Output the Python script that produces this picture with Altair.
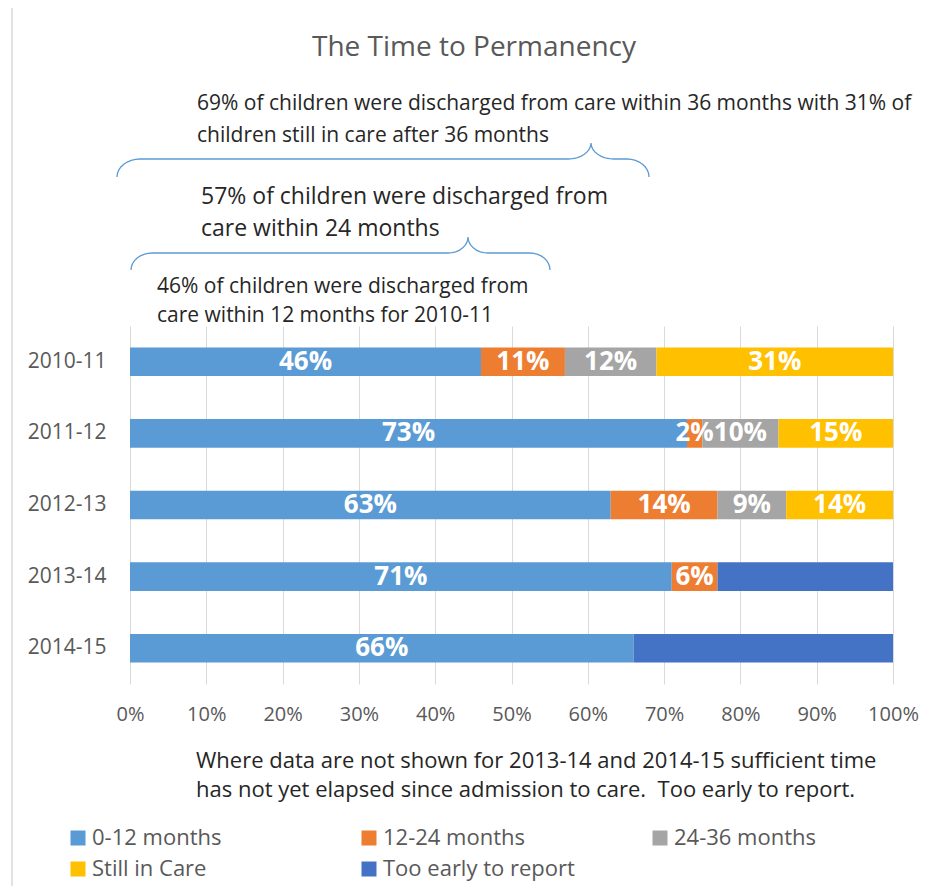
import math
import altair as alt
import pandas as pd

# ---------------- data ----------------
years = ["2010-11", "2011-12", "2012-13", "2013-14", "2014-15"]
series = ["0-12 months", "12-24 months", "24-36 months", "Still in Care", "Too early to report"]
colors = ["#5b9bd5", "#ed7d31", "#a5a5a5", "#ffc000", "#4472c4"]

v_0_12 = [46, 73, 63, 71, 66]
v_12_24 = [11, 2, 14, 6, 0]
v_24_36 = [12, 10, 9, 0, 0]
v_still = [31, 15, 14, 0, 0]
v_early = [0, 0, 0, 23, 34]

x_ticks = list(range(0, 101, 10))

title_text = "The Time to Permanency"
note_36 = ["69% of children were discharged from care within 36 months with 31% of",
           "children still in care after 36 months"]
note_24 = ["57% of children were discharged from", "care within 24 months"]
note_12 = ["46% of children were discharged from", "care within 12 months for 2010-11"]
note_bottom = ["Where data are not shown for 2013-14 and 2014-15 sufficient time",
               "has not yet elapsed since admission to care.\u00a0 Too early to report."]

rows = []
for s_i, (name, vals) in enumerate(zip(series, [v_0_12, v_12_24, v_24_36, v_still, v_early])):
    for y, v in zip(years, vals):
        if v > 0:
            rows.append({"year": y, "series": name, "order": s_i, "value": v,
                         "label": "" if name == "Too early to report" else f"{v}%"})
df = pd.DataFrame(rows)

# ---------------- layout ----------------
F = "Open Sans"
GRAY = "#595959"
DARK = "#262626"
PL, PT = 130, 326          # page position of plot origin
W, H = 763, 358


def px(x):
    return x - PL


def py(y):
    return y - PT


def pct(x):
    return (x - PL) / (W / 100.0)


x_scale = alt.Scale(domain=[0, 100], nice=False)
y_scale = alt.Scale(domain=years, paddingInner=0.6, paddingOuter=0.3)

base = alt.Chart(df).transform_stack(
    stack="value", groupby=["year"], as_=["x0", "x1"],
    sort=[alt.SortField("order", order="ascending")]
).transform_calculate(mid="(datum.x0 + datum.x1) / 2")

bars = base.mark_bar().encode(
    x=alt.X("x0:Q", scale=x_scale,
            axis=alt.Axis(values=x_ticks, labelExpr="datum.value + '%'", grid=True,
                          gridColor="#d9d9d9", gridWidth=1, domain=False, ticks=False,
                          labelFontSize=20, labelColor=GRAY, labelFont=F,
                          labelFlush=False, labelPadding=20, title=None)),
    x2="x1:Q",
    y=alt.Y("year:N", scale=y_scale, sort=years,
            axis=alt.Axis(title=None, domain=False, ticks=False, labelFontSize=21,
                          labelColor=GRAY, labelFont=F, labelPadding=24)),
    color=alt.Color("series:N", scale=alt.Scale(domain=series, range=colors),
                    legend=alt.Legend(orient="none", legendX=-63, legendY=501,
                                      direction="horizontal", columns=3,
                                      gridAlign="all", columnPadding=74,
                                      rowPadding=9, symbolType="square",
                                      symbolSize=225, symbolStrokeWidth=0,
                                      symbolOpacity=1, labelFontSize=22,
                                      labelFont=F, labelColor=GRAY, labelLimit=400,
                                      labelOffset=3, title=None)),
)

labels = base.mark_text(font=F, fontSize=26, fontWeight="bold", color="white",
                        baseline="middle", align="center").encode(
    x=alt.X("mid:Q", scale=x_scale),
    y=alt.Y("year:N", scale=y_scale, sort=years),
    text="label:N",
)


# ---------------- braces ----------------
def brace(xs, xl, xa, xt, xb, xr, xe, y_end, y_level, y_tip, bid):
    pts = []
    angs = [i * math.pi / 16 for i in range(9)]
    b = y_end - y_level
    bt = y_level - y_tip
    for p in angs:
        pts.append((xl - (xl - xs) * math.cos(p), y_end - b * math.sin(p)))
    for p in angs:
        pts.append((xa + (xt - xa) * math.sin(p), y_tip + bt * math.cos(p)))
    for p in angs[1:]:
        pts.append((xb - (xb - xt) * math.cos(p), y_tip + bt * math.sin(p)))
    for p in angs:
        pts.append((xr + (xe - xr) * math.sin(p), y_end - b * math.cos(p)))
    return [{"bx": pct(x), "by": py(y), "i": k, "b": bid} for k, (x, y) in enumerate(pts)]


brace_rows = (brace(117, 140, 568, 591, 614, 627, 649, 177, 159, 143, "b36")
              + brace(131, 152, 448, 468, 488, 530, 550, 270, 253, 237, "b24"))
braces = alt.Chart(pd.DataFrame(brace_rows)).mark_line(color="#5b9bd5", strokeWidth=1.3).encode(
    x=alt.X("bx:Q", scale=x_scale),
    y=alt.Y("by:Q", scale=None, axis=None),
    detail="b:N",
    order=alt.Order("i:Q"),
)


def text_line(s, x, y, size, color=DARK, align="left"):
    return alt.Chart(pd.DataFrame({"t": [s]})).mark_text(
        align=align, baseline="middle", font=F, fontSize=size, color=color
    ).encode(text="t:N", x=alt.value(px(x)), y=alt.value(py(y)))


texts = [
    text_line(title_text, 474, 48, 28, GRAY, "center"),
    text_line(note_36[0], 197, 104, 21),
    text_line(note_36[1], 197, 136, 21),
    text_line(note_24[0], 201, 197, 23),
    text_line(note_24[1], 201, 229, 23),
    text_line(note_12[0], 157, 287, 21),
    text_line(note_12[1], 157, 316, 21),
    text_line(note_bottom[0], 196, 761, 22),
    text_line(note_bottom[1], 196, 790, 22),
]

border = alt.Chart(pd.DataFrame({"k": [0]})).mark_rule(color="#d9d9d9", strokeWidth=1.5).encode(
    x=alt.value(px(12)), y=alt.value(py(0)), y2=alt.value(py(894)))

chart = alt.layer(border, bars, labels, braces, *texts).properties(
    width=W, height=H,
    autosize=alt.AutoSizeParams(type="none"),
    padding={"left": PL - 8, "top": PT - 8, "right": 912 - (PL - 8) - W, "bottom": 878 - (PT - 8) - H},
).configure_view(stroke=None)

chart.save("out.html", embed_options={"renderer": "svg", "actions": False})
